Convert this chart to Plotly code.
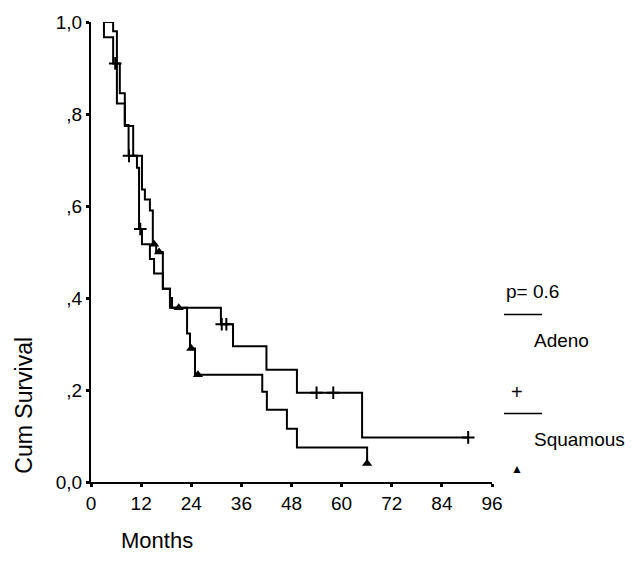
import plotly.graph_objects as go

# ---- data ----
adeno_start = 3.1
adeno_event_t = [3.1, 5.3, 6.2, 8.1, 9.0, 11.0, 11.5, 12.2, 14.1, 15.1, 17.2, 18.9, 31.1, 34.0, 42.0, 49.3, 64.9]
adeno_event_s = [0.967, 0.91, 0.823, 0.776, 0.709, 0.683, 0.55, 0.517, 0.485, 0.453, 0.42, 0.379, 0.343, 0.295, 0.244, 0.194, 0.097]
adeno_end = 90.3
adeno_cens_t = [5.8, 9.1, 11.8, 31.3, 32.4, 54.0, 58.0, 90.3]
adeno_cens_s = [0.91, 0.709, 0.55, 0.343, 0.343, 0.194, 0.194, 0.097]

squam_start = 3.1
squam_event_t = [5.3, 6.2, 6.9, 8.1, 10.1, 12.2, 12.9, 14.1, 14.8, 15.6, 17.2, 18.9, 19.4, 23.0, 23.7, 24.9, 41.0, 42.1, 46.9, 49.3, 66.1]
squam_event_s = [0.98, 0.91, 0.845, 0.774, 0.709, 0.636, 0.614, 0.59, 0.517, 0.5, 0.42, 0.40, 0.379, 0.323, 0.29, 0.233, 0.196, 0.157, 0.116, 0.075, 0.04]
squam_end = 66.1
squam_cens_t = [15.1, 16.3, 21.0, 24.0, 25.6, 66.1]
squam_cens_s = [0.517, 0.5, 0.379, 0.29, 0.233, 0.04]

x_ticks = [0, 12, 24, 36, 48, 60, 72, 84, 96]
y_ticks = [0, 0.2, 0.4, 0.6, 0.8, 1.0]
y_tick_labels = ["0,0", ",2", ",4", ",6", ",8", "1,0"]

FONT = "Arial, Liberation Sans, sans-serif"


def step_path(start, ev_t, ev_s, end):
    xs = [start] + list(ev_t) + [end]
    ys = [1.0] + list(ev_s) + [ev_s[-1]]
    return xs, ys


fig = go.Figure()
for start, et, es, end in [(adeno_start, adeno_event_t, adeno_event_s, adeno_end),
                           (squam_start, squam_event_t, squam_event_s, squam_end)]:
    xs, ys = step_path(start, et, es, end)
    fig.add_trace(go.Scatter(x=xs, y=ys, mode="lines", line=dict(color="black", width=2, shape="hv"),
                             showlegend=False, cliponaxis=False, hoverinfo="skip"))

fig.add_trace(go.Scatter(x=adeno_cens_t, y=adeno_cens_s, mode="markers",
                         marker=dict(symbol="cross-thin", size=9, line=dict(color="black", width=2)),
                         showlegend=False, cliponaxis=False))
fig.add_trace(go.Scatter(x=squam_cens_t, y=squam_cens_s, mode="markers",
                         marker=dict(symbol="triangle-up", size=9, color="black"),
                         showlegend=False, cliponaxis=False))

W, H = 638, 579
L, R, T, B = 91, 146, 18, 97
pw, ph = W - L - R, H - T - B


def px(x):
    return (x - L) / pw


def py(y):
    return (H - B - y) / ph


fig.update_layout(
    width=W, height=H, margin=dict(l=L, r=R, t=T, b=B),
    paper_bgcolor="white", plot_bgcolor="white",
    font=dict(family=FONT, color="black", size=19),
    xaxis=dict(range=[0, 96], tickvals=x_ticks, ticktext=[str(v) for v in x_ticks],
               showgrid=False, zeroline=False, showline=True, linecolor="black", linewidth=2,
               ticks="outside", ticklen=3, tickwidth=3, tickcolor="black",
               tickfont=dict(size=19, family=FONT)),
    yaxis=dict(range=[0, 1], tickvals=y_ticks, ticktext=y_tick_labels,
               showgrid=False, zeroline=False, showline=True, linecolor="black", linewidth=2,
               ticks="outside", ticklen=3, tickwidth=3, tickcolor="black",
               tickfont=dict(size=19, family=FONT)),
)

ann = [
    dict(text="Cum Survival", x=px(24), y=py(405), textangle=-90, font=dict(size=23)),
    dict(text="Months", x=px(157), y=py(541), font=dict(size=22)),
    dict(text="p= 0.6", x=px(504), y=py(290), xanchor="left", font=dict(size=19)),
    dict(text="Adeno", x=px(532), y=py(339), xanchor="left", font=dict(size=19)),
    dict(text="+", x=px(517), y=py(391), font=dict(size=20)),
    dict(text="Squamous", x=px(532), y=py(439), xanchor="left", font=dict(size=19)),
    dict(text="▲", x=px(517), y=py(469), font=dict(size=12)),
]
for a in ann:
    a.update(xref="paper", yref="paper", showarrow=False)
    a.setdefault("xanchor", "center")
    a["yanchor"] = "middle"
fig.update_layout(annotations=ann)

for yy in [313, 413]:
    fig.add_shape(type="line", xref="paper", yref="paper", x0=px(504), x1=px(542), y0=py(yy), y1=py(yy),
                  line=dict(color="black", width=1.5))

fig.write_html("out.html")
